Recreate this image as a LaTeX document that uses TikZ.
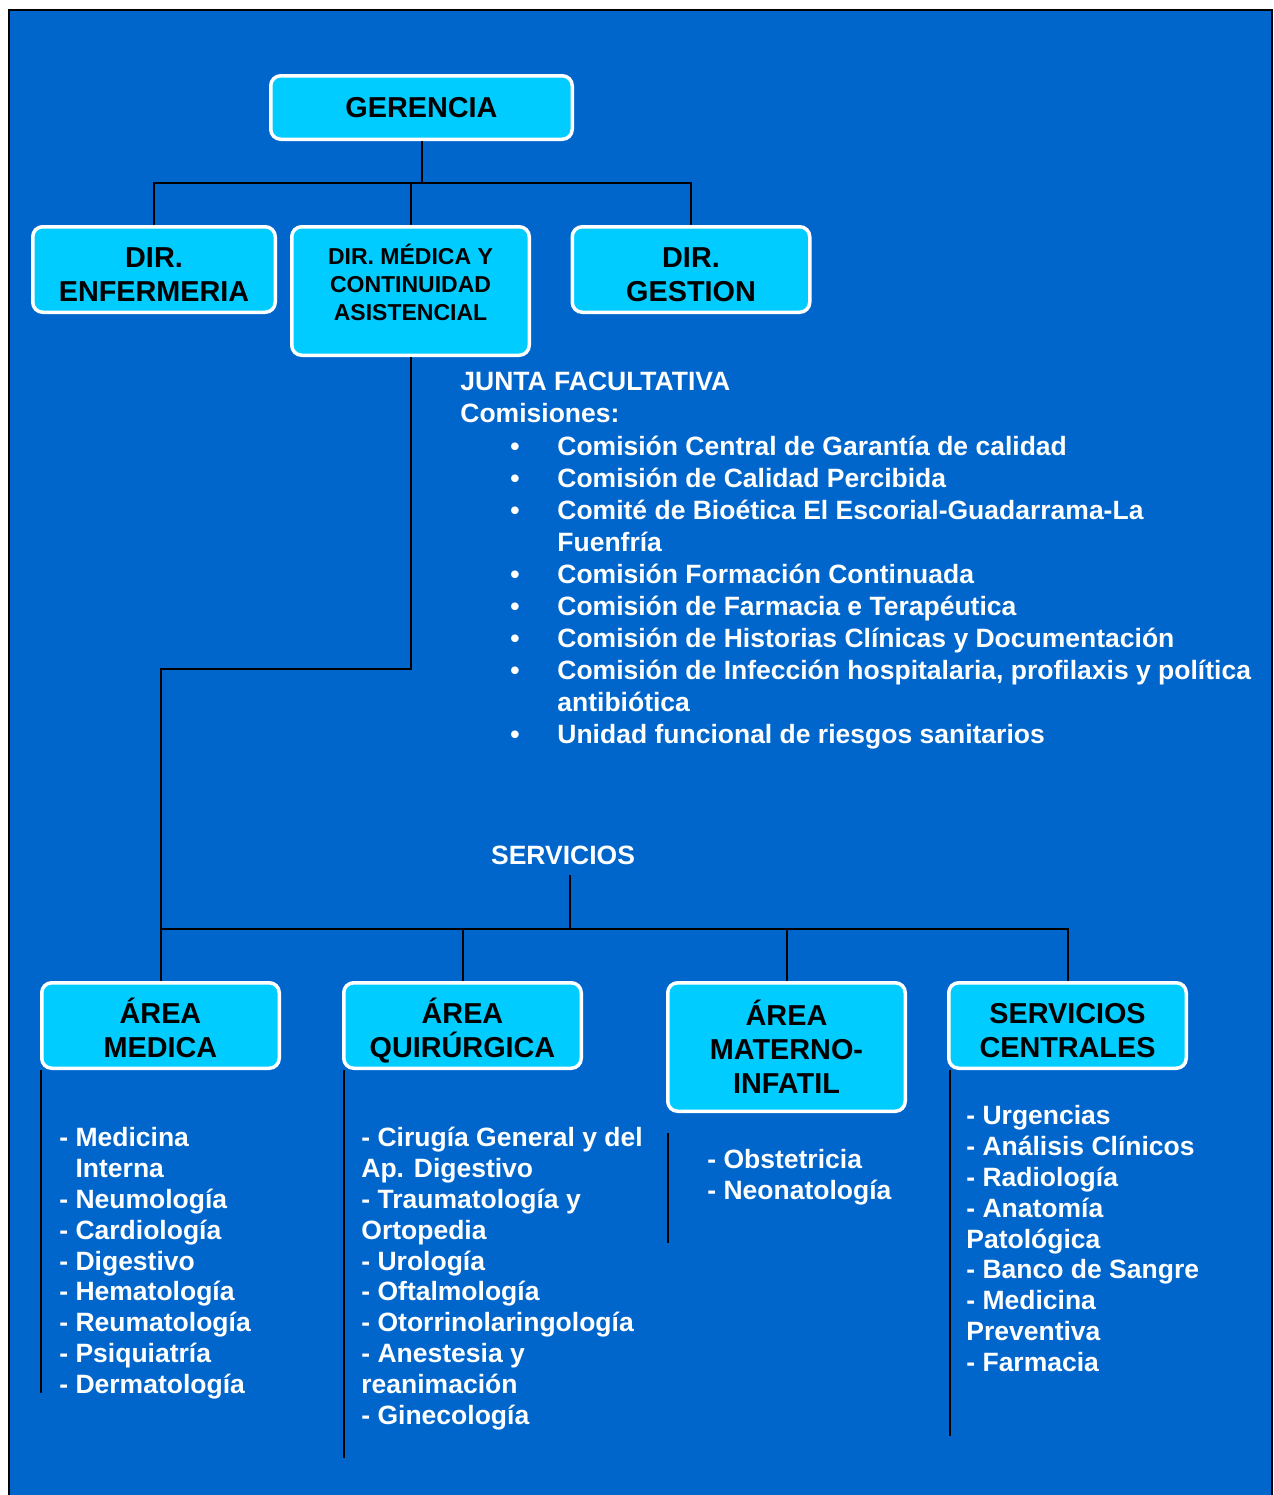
\documentclass[tikz,border=0pt]{standalone}
\usepackage{fontspec}
\setmainfont{Liberation Sans}
\definecolor{fondo}{HTML}{0066CC}
\definecolor{celeste}{HTML}{00CCFF}
\tikzstyle{caja} = [rectangle, rounded corners=5pt, draw=white, line width=1.75pt, fill=celeste, align=center, minimum width=118.75pt, minimum height=42.75pt, inner sep=2pt, font=\bfseries\fontsize{14.4}{17}\selectfont]
\tikzstyle{lista} = [text=white, align=left, anchor=north west, inner sep=0pt, font=\bfseries\fontsize{13.25}{15.4}\selectfont]
\tikzstyle{linea} = [black, line width=1pt]
\newcommand{\alto}{\rule{0pt}{14.8pt}}
\newcommand{\punto}{\makebox[48.5pt][l]{\hspace{25pt}•}}
\newcommand{\sigue}{\hspace*{48.5pt}}

\begin{document}
\begin{tikzpicture}[x=0.5pt, y=-0.5pt]
\useasboundingbox (0,0) rectangle (1274,1495);
\fill[white] (0,0) rectangle (1274,1495);
\draw[fill=fondo, line width=1pt] (9,10) rectangle (1272,1510);

\node (gerencia) [caja, minimum width=150.75pt, minimum height=31.75pt] at (421.5,107.5) {GERENCIA};
\node (enfermeria) [caja, minimum width=121.25pt] at (154,269.5) {\alto DIR.\\ENFERMERIA};
\node (medica) [caja, minimum height=64.25pt, font=\bfseries\fontsize{11.5}{14}\selectfont] at (410.5,291) {\alto DIR. MÉDICA Y\\CONTINUIDAD\\ASISTENCIAL\rule[-13.6pt]{0pt}{13.6pt}};
\node (gestion) [caja] at (691,269.5) {\alto DIR.\\GESTION};

\node (junta) [lista, font=\bfseries\fontsize{13.25}{16.05}\selectfont] at (460,368) {\strut JUNTA FACULTATIVA\\
Comisiones:\\
\punto Comisión Central de Garantía de calidad\\
\punto Comisión de Calidad Percibida\\
\punto Comité de Bioética El Escorial-Guadarrama-La\\
\sigue Fuenfría\\
\punto Comisión Formación Continuada\\
\punto Comisión de Farmacia e Terapéutica\\
\punto Comisión de Historias Clínicas y Documentación\\
\punto Comisión de Infección hospitalaria, profilaxis y política\\
\sigue antibiótica\\
\punto Unidad funcional de riesgos sanitarios};

\node (servicios) [text=white, inner sep=5pt, font=\bfseries\fontsize{13.25}{15.4}\selectfont] at (563,855) {SERVICIOS};

\node (areamed) [caja] at (160.5,1025.5) {\alto ÁREA\\MEDICA};
\node (areaquir) [caja] at (462.5,1025.5) {\rule{0pt}{18pt}ÁREA\\QUIRÚRGICA};
\node (areamat) [caja, minimum height=64.25pt] at (786.5,1047) {\rule{0pt}{12.8pt}ÁREA\\MATERNO-\\INFATIL};
\node (servcent) [caja] at (1067.5,1025.5) {\alto SERVICIOS\\CENTRALES};

\node (medlist) [lista] at (59,1125) {\strut - Medicina\\
\phantom{- }Interna\\
- Neumología\\
- Cardiología\\
- Digestivo\\
- Hematología\\
- Reumatología\\
- Psiquiatría\\
- Dermatología};
\node (quirlist) [lista] at (361,1125) {\strut - Cirugía General y del\\
Ap. Digestivo\\
- Traumatología y\\
Ortopedia\\
- Urología\\
- Oftalmología\\
- Otorrinolaringología\\
- Anestesia y\\
reanimación\\
- Ginecología};
\node (matlist) [lista] at (707,1147) {\strut - Obstetricia\\
- Neonatología};
\node (centlist) [lista] at (966,1103) {\strut - Urgencias\\
- Análisis Clínicos\\
- Radiología\\
- Anatomía\\
Patológica\\
- Banco de Sangre\\
- Medicina\\
Preventiva\\
- Farmacia};

\coordinate (bus1) at (421.5,183);
\coordinate (codo) at (410.5,669);
\coordinate (bus2) at (570,929);

\draw [linea] (gerencia) -- (bus1);
\draw [linea] (bus1) -| (enfermeria);
\draw [linea] (bus1) -| (medica);
\draw [linea] (bus1) -| (gestion);
\draw [linea] (medica) -- (codo) -| (areamed);
\draw [linea] (bus2 |- servicios.south) -- (bus2);
\draw [linea] (bus2) -| (areamed);
\draw [linea] (bus2) -| (areaquir);
\draw [linea] (bus2) -| (areamat);
\draw [linea] (bus2) -| (servcent);

% barras junto a las listas
\draw [linea] (41,1070) -- (41,1393);
\draw [linea] (344,1070) -- (344,1458);
\draw [linea] (668,1133) -- (668,1243);
\draw [linea] (950,1070) -- (950,1436);
\end{tikzpicture}
\end{document}
